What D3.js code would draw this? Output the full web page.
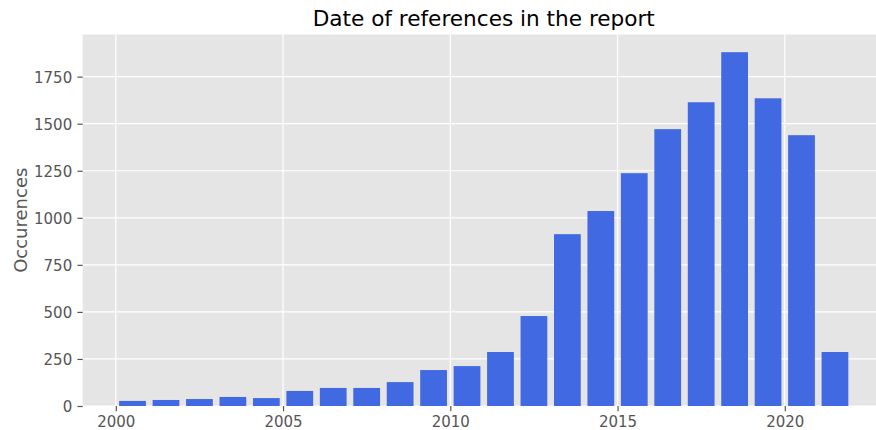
<!DOCTYPE html>
<html>
<head>
<meta charset="utf-8">
<script src="https://cdn.jsdelivr.net/npm/d3@7"></script>
<style>
  body { margin: 0; background: #fff; }
  svg { display: block; font-family: "DejaVu Sans", sans-serif; }
</style>
</head>
<body>
<div id="chart"></div>
<script>
// 資料
const years = [2000, 2001, 2002, 2003, 2004, 2005, 2006, 2007, 2008, 2009, 2010,
               2011, 2012, 2013, 2014, 2015, 2016, 2017, 2018, 2019, 2020, 2021];
const counts = [27, 32, 37, 48, 42, 80, 96, 96, 127, 191, 212,
                287, 478, 913, 1036, 1237, 1471, 1614, 1880, 1635, 1439, 287];
const xTicks = [2000, 2005, 2010, 2015, 2020];
const yTicks = [0, 250, 500, 750, 1000, 1250, 1500, 1750];

const W = 876, H = 430;
const margin = { top: 34.5, left: 82.7, bottom: 24 };
const plotW = 802.1;                       // 右側被圖片裁切
const plotH = 406 - margin.top;
const barW = 0.8;

const svg = d3.select("#chart")
    .append("svg")
    .attr("width", W)
    .attr("height", H);

// X 軸範圍：bar 從 year+0.1 到 year+0.9，加 5% 邊界
const x0 = d3.min(years) + 0.5 - barW / 2;
const x1 = d3.max(years) + 0.5 + barW / 2;
const pad = (x1 - x0) * 0.05;
const xScale = d3.scaleLinear()
    .domain([x0 - pad, x1 + pad])
    .range([0, plotW]);

const yScale = d3.scaleLinear()
    .domain([0, d3.max(counts) * 1.05])
    .range([plotH, 0]);

const g = svg.append("g")
    .attr("transform", `translate(${margin.left},${margin.top})`);

// 背景
g.append("rect")
    .attr("width", plotW)
    .attr("height", plotH)
    .attr("fill", "#e5e5e5");

// 格線
g.selectAll(".ygrid")
    .data(yTicks)
    .enter()
    .append("line")
    .attr("x1", 0).attr("x2", plotW)
    .attr("y1", d => yScale(d)).attr("y2", d => yScale(d))
    .attr("stroke", "#fff").attr("stroke-width", 1.2);

g.selectAll(".xgrid")
    .data(xTicks)
    .enter()
    .append("line")
    .attr("x1", d => xScale(d)).attr("x2", d => xScale(d))
    .attr("y1", 0).attr("y2", plotH)
    .attr("stroke", "#fff").attr("stroke-width", 1.2);

// 長條
g.selectAll(".bar")
    .data(counts)
    .enter()
    .append("rect")
    .attr("class", "bar")
    .attr("x", (d, i) => xScale(years[i] + 0.5 - barW / 2))
    .attr("width", (d, i) => xScale(years[i] + 0.5 + barW / 2) - xScale(years[i] + 0.5 - barW / 2))
    .attr("y", d => yScale(d))
    .attr("height", d => plotH - yScale(d))
    .attr("fill", "#4169e1");

// X 軸
const xAxis = g.append("g")
    .attr("transform", `translate(0,${plotH})`)
    .call(d3.axisBottom(xScale).tickValues(xTicks).tickFormat(d3.format("d"))
        .tickSize(5.25).tickPadding(5.25));

// Y 軸
const yAxis = g.append("g")
    .call(d3.axisLeft(yScale).tickValues(yTicks).tickFormat(d3.format("d"))
        .tickSize(5.25).tickPadding(5.25));

[xAxis, yAxis].forEach(ax => {
    ax.select(".domain").remove();
    ax.selectAll(".tick line").attr("stroke", "#555").attr("stroke-width", 1.2);
    ax.selectAll(".tick text")
        .attr("fill", "#555")
        .style("font-size", "15px")
        .style("font-family", "DejaVu Sans");
});
xAxis.selectAll(".tick text").attr("dy", "0.72em");
yAxis.selectAll(".tick text").attr("dy", "0.36em");

// 標題
svg.append("text")
    .attr("x", margin.left + plotW / 2)
    .attr("y", 26)
    .attr("text-anchor", "middle")
    .attr("fill", "#000")
    .style("font-size", "21.6px")
    .text("Date of references in the report");

// Y 軸標籤
svg.append("text")
    .attr("transform", `translate(26.5,${margin.top + plotH / 2}) rotate(-90)`)
    .attr("text-anchor", "middle")
    .attr("fill", "#555")
    .style("font-size", "18px")
    .text("Occurences");
</script>
</body>
</html>
